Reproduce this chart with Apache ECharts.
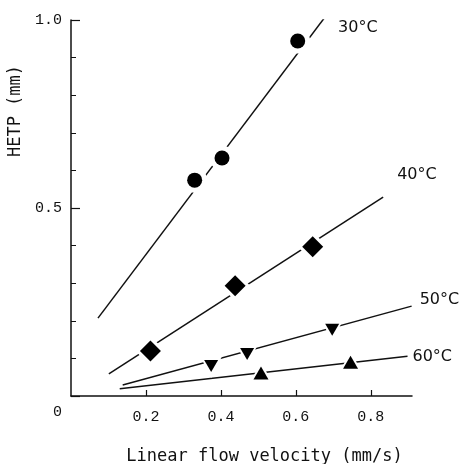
<!DOCTYPE html>
<html>
<head>
<meta charset="utf-8">
<script src="https://cdn.jsdelivr.net/npm/echarts@6/dist/echarts.min.js"></script>
<style>
  html, body { margin: 0; padding: 0; background: #fff; }
  #main { width: 471px; height: 464px; }
</style>
</head>
<body>
<div id="main"></div>
<script>
// 温度标签
var temps = ['30°C', '40°C', '50°C', '60°C'];

// 实测点 [流速 mm/s, HETP mm]
var data30 = [[0.330, 0.574], [0.403, 0.633], [0.605, 0.944]];
var data40 = [[0.212, 0.120], [0.438, 0.293], [0.645, 0.397]];
var data50 = [[0.374, 0.080], [0.470, 0.112], [0.697, 0.176]];
var data60 = [[0.507, 0.061], [0.746, 0.090]];

// 拟合直线的两端
var fit30 = [[0.072, 0.207], [0.678, 1.008]];
var fit40 = [[0.101, 0.059], [0.833, 0.529]];
var fit50 = [[0.138, 0.029], [0.909, 0.239]];
var fit60 = [[0.130, 0.019], [0.898, 0.106]];

// 刻度
var xTicks = [0.2, 0.4, 0.6, 0.8];
var yTicks = [0, 0.5, 1.0];

var myChart = echarts.init(document.getElementById('main'));

var labelFont = {
  fontFamily: 'DejaVu Sans',
  fontSize: 16,
  color: '#111'
};

function fitLine(name, data, offset) {
  return {
    name: name,
    type: 'line',
    data: data,
    symbol: 'none',
    silent: true,
    z: 1,
    lineStyle: { color: '#111', width: 1.5 },
    endLabel: {
      show: true,
      formatter: name,
      distance: 0,
      offset: offset,
      fontFamily: labelFont.fontFamily,
      fontSize: labelFont.fontSize,
      color: labelFont.color
    }
  };
}

// 白色底衬, 让直线在点附近断开
function halo(data, symbol, size, rotate) {
  return {
    type: 'scatter',
    data: data,
    symbol: symbol,
    symbolSize: size,
    symbolRotate: rotate || 0,
    silent: true,
    z: 2,
    itemStyle: { color: '#fff', opacity: 1 }
  };
}

function marks(data, symbol, size, rotate) {
  return {
    type: 'scatter',
    data: data,
    symbol: symbol,
    symbolSize: size,
    symbolRotate: rotate || 0,
    z: 3,
    itemStyle: { color: '#000', opacity: 1 }
  };
}

var option = {
  backgroundColor: '#fff',
  animation: false,
  grid: { left: 71, right: 59, top: 20, bottom: 68, outerBoundsMode: 'none' },
  xAxis: {
    type: 'value',
    min: 0,
    max: 0.91,
    name: 'Linear flow velocity (mm/s)',
    nameLocation: 'middle',
    nameGap: 52,
    nameTextStyle: {
      fontFamily: 'DejaVu Sans Mono',
      fontSize: 17,
      color: '#111',
      padding: [0, 0, 0, 46]
    },
    axisLine: { lineStyle: { color: '#111', width: 1.5 } },
    axisTick: {
      inside: true,
      length: 6,
      customValues: xTicks,
      lineStyle: { color: '#111', width: 1.2 }
    },
    axisLabel: {
      customValues: xTicks,
      margin: 14,
      fontFamily: 'Liberation Mono',
      fontSize: 15,
      color: '#111',
      formatter: function (v) { return v.toFixed(1); }
    },
    splitLine: { show: false }
  },
  yAxis: {
    type: 'value',
    min: 0,
    max: 1.0,
    interval: 0.5,
    name: 'HETP (mm)',
    nameLocation: 'middle',
    nameGap: 42,
    nameTextStyle: {
      fontFamily: 'DejaVu Sans Mono',
      fontSize: 17,
      color: '#111',
      padding: [0, 0, 0, 194]
    },
    axisLine: { lineStyle: { color: '#111', width: 1.5 } },
    axisTick: {
      inside: true,
      length: 9,
      customValues: yTicks,
      lineStyle: { color: '#111', width: 1.2 }
    },
    minorTick: {
      show: true,
      splitNumber: 5,
      length: 5,
      lineStyle: { color: '#111', width: 1 }
    },
    axisLabel: {
      customValues: yTicks,
      margin: 9,
      fontFamily: 'Liberation Mono',
      fontSize: 15,
      color: '#111',
      formatter: function (v) {
        return v === 0 ? '{z|0}' : v.toFixed(1);
      },
      rich: {
        z: {
          fontFamily: 'Liberation Mono',
          fontSize: 15,
          color: '#111',
          padding: [32, 0, 0, 0]
        }
      }
    },
    splitLine: { show: false },
    minorSplitLine: { show: false }
  },
  series: [
    fitLine(temps[0], fit30, [13, 11]),
    fitLine(temps[1], fit40, [14, -22]),
    fitLine(temps[2], fit50, [8, -6]),
    fitLine(temps[3], fit60, [5, 1]),
    halo(data30, 'circle', 25),
    halo(data40, 'diamond', 30),
    halo(data50, 'triangle', 24, 180),
    halo(data60, 'triangle', 24),
    marks(data30, 'circle', 15),
    marks(data40, 'diamond', 21),
    marks(data50, 'triangle', [14, 12], 180),
    marks(data60, 'triangle', [15, 13])
  ]
};

myChart.setOption(option);
</script>
</body>
</html>
